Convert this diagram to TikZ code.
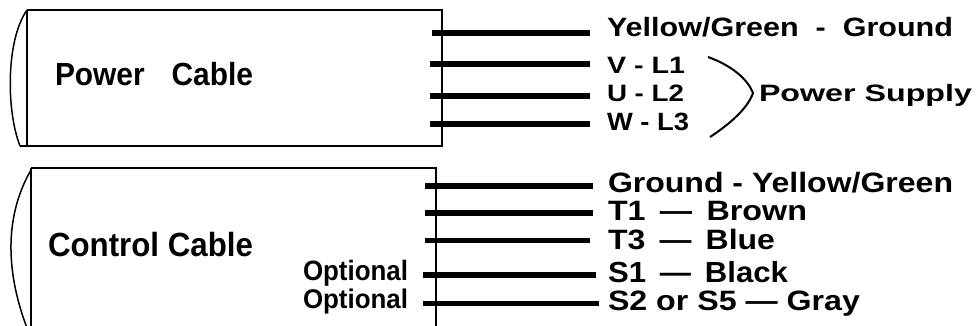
\documentclass[tikz,border=0pt]{standalone}
\usepackage{fontspec}
\usepackage{graphicx}
\setmainfont{Liberation Sans}
\newcommand\fitlbl[3]{\fontsize{#2}{#2}\selectfont\bfseries\resizebox{#1pt}{\height}{#3}}
\tikzset{
  lbl/.style={anchor=base west, inner sep=0pt, outer sep=0pt},
  wire/.style={line width=6pt},
  cable/.style={line width=1.5pt},
  brace/.style={line width=2pt}
}
\begin{document}
\begin{tikzpicture}[x=1pt,y=-1pt]
\useasboundingbox (0,0) rectangle (978,326);
\fill[white] (0,0) rectangle (978,326);
% ---------- power cable ----------
\draw[cable] (27,10) -- (442,10) -- (442,146) -- (20,146);
\draw[cable] (27,10) -- (27,146);
\draw[cable] (27,10) .. controls (6,40) and (6,110) .. (20,146);
\node[lbl] (pc) at (55,86) {\fitlbl{198}{32}{Power\hspace{0.9em}Cable}};
% wire ends
\coordinate (p1a) at (432,33);  \coordinate (p1b) at (590,33);
\coordinate (p2a) at (430,64);  \coordinate (p2b) at (590,64);
\coordinate (p3a) at (430,96);  \coordinate (p3b) at (590,96);
\coordinate (p4a) at (430,124); \coordinate (p4b) at (590,124);
\draw[wire] (p1a) -- (p1b);
\draw[wire] (p2a) -- (p2b);
\draw[wire] (p3a) -- (p3b);
\draw[wire] (p4a) -- (p4b);
\node[lbl] (pg) at (607,37)  {\fitlbl{346}{26.5}{Yellow/Green\ \ -\ \ Ground}};
\node[lbl] (pv) at (607,74)  {\fitlbl{78}{23.7}{V - L1}};
\node[lbl] (pu) at (607,102) {\fitlbl{77}{23.7}{U - L2}};
\node[lbl] (pw) at (607,131) {\fitlbl{82}{25}{W - L3}};
\node[lbl] (ps) at (759,102) {\fitlbl{213}{23.7}{Power Supply}};
\coordinate (bt) at (708,57);
\coordinate (bm) at (753,93);
\coordinate (bb) at (710,137);
\draw[brace] (bt) .. controls (733,66) and (748,80) .. (bm) .. controls (748,108) and (730,124) .. (bb);
% ---------- control cable ----------
\draw[cable] (31,168) -- (436,168) -- (436,330);
\draw[cable] (31,168) -- (31,330);
\draw[cable] (31,170) .. controls (5,215) and (5,270) .. (27,328);
\node[lbl] (cc) at (48,257) {\fitlbl{205}{33.5}{Control Cable}};
\node[lbl] (o1) at (303,280) {\fitlbl{105}{28}{Optional}};
\node[lbl] (o2) at (303,308) {\fitlbl{105}{27}{Optional}};
\coordinate (c1a) at (425,186); \coordinate (c1b) at (593,186);
\coordinate (c2a) at (425,213); \coordinate (c2b) at (593,213);
\coordinate (c3a) at (425,240); \coordinate (c3b) at (590,240);
\coordinate (c4a) at (423,275); \coordinate (c4b) at (596,275);
\coordinate (c5a) at (423,303); \coordinate (c5b) at (599,303);
\draw[wire] (c1a) -- (c1b);
\draw[wire] (c2a) -- (c2b);
\draw[wire,line width=5pt] (c3a) -- (c3b);
\draw[wire] (c4a) -- (c4b);
\draw[wire,line width=5pt] (c5a) -- (c5b);
\node[lbl] (cg) at (608,193) {\fitlbl{345}{28}{Ground - Yellow/Green}};
\node[lbl] (ct1) at (608,220) {\fitlbl{199}{28}{T1 \,---\, Brown}};
\node[lbl] (ct3) at (608,249) {\fitlbl{167}{28}{T3 \,---\, Blue}};
\node[lbl] (cs1) at (608,282) {\fitlbl{180}{29}{S1 \,---\, Black}};
\node[lbl] (cs2) at (608,310) {\fitlbl{252}{28}{S2 or S5 --- Gray}};
\end{tikzpicture}
\end{document}
